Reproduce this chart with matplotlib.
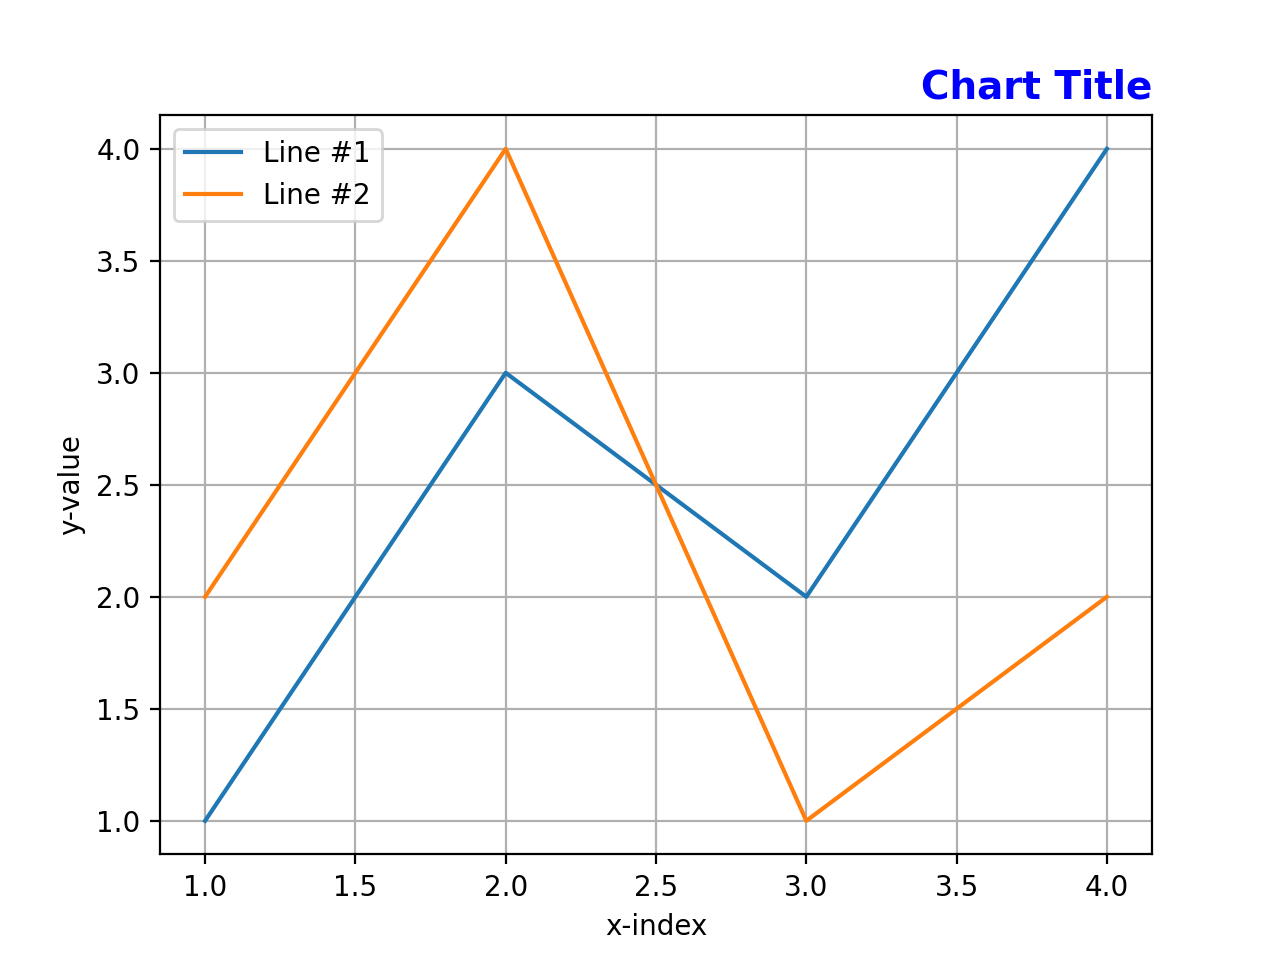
import matplotlib
matplotlib.use("Agg")
import matplotlib.pyplot as plt

# Dados
x_vals = [1, 2, 3, 4]
line1 = [1, 3, 2, 4]
line2 = [2, 4, 1, 2]

fig, ax = plt.subplots(figsize=(6.4, 4.8), dpi=200)
ax.plot(x_vals, line1, label="Line #1")
ax.plot(x_vals, line2, label="Line #2")

ax.set_xlabel("x-index")
ax.set_ylabel("y-value")
ax.set_title("Chart Title", loc="right", color="blue", fontweight="bold", fontsize=14)
ax.grid(True)
ax.legend(loc="upper left")

fig.savefig("out.png", dpi=200)
